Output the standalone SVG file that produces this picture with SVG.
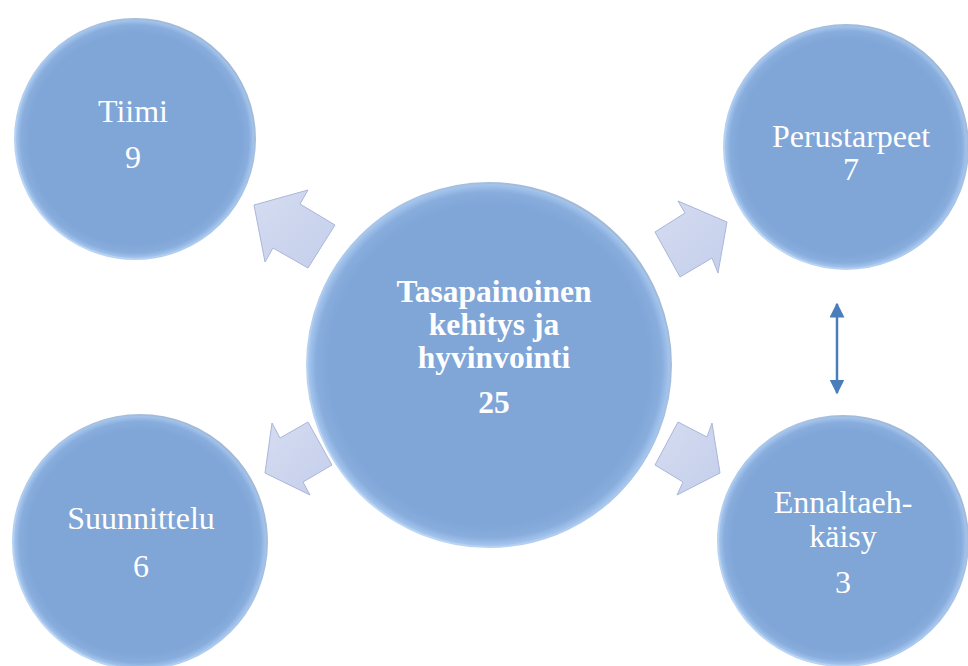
<svg xmlns="http://www.w3.org/2000/svg" width="968" height="666" viewBox="0 0 968 666">
  <style>
    .circ { fill: url(#cfill); stroke: url(#cstroke); stroke-width: 2; }
    text { font-family: 'Liberation Serif', 'DejaVu Serif', serif; fill: #ffffff; font-size: 32px; text-anchor: middle; }
    .bold { font-weight: bold; font-size: 31.5px; }
    .blk { fill: url(#afill); stroke: #aab6da; stroke-width: 1; stroke-linejoin: miter; }
    .dbl { stroke: #4a7ebb; stroke-width: 2.5; fill: none; }
  </style>
  <defs>
    <radialGradient id="cfill" cx="0.5" cy="0.5" r="0.5">
      <stop offset="0" stop-color="#7fa6d7"/>
      <stop offset="0.88" stop-color="#7fa6d7"/>
      <stop offset="0.95" stop-color="#88addd"/>
      <stop offset="1" stop-color="#a9c9f0"/>
    </radialGradient>
    <linearGradient id="cstroke" x1="1" y1="0" x2="0" y2="1">
      <stop offset="0" stop-color="#9fb3cc"/>
      <stop offset="0.5" stop-color="#a9c7ec"/>
      <stop offset="1" stop-color="#c4dcf6"/>
    </linearGradient>
    <linearGradient id="afill" x1="0" y1="0" x2="1" y2="1">
      <stop offset="0" stop-color="#d5dcf1"/>
      <stop offset="1" stop-color="#c5cfeb"/>
    </linearGradient>
    <marker id="ah" viewBox="0 0 10 10" refX="9" refY="5" markerWidth="6" markerHeight="6" markerUnits="strokeWidth" orient="auto-start-reverse">
      <path d="M0,0 L10,5 L0,10 Z" fill="#4a7ebb"/>
    </marker>
  </defs>
  <rect width="968" height="666" fill="#ffffff"/>

  <g id="connectors">
    <polygon class="blk" points="254,205 308,190 300,204 335,225 308,268 273,248 265,262"/>
    <polygon class="blk" points="727,222 678,201 685,213 655,232 680,277 712,258 718,273"/>
    <polygon class="blk" points="265,473 272,423 280,438 308,422 332,465 303,482 310,495"/>
    <polygon class="blk" points="720,473 712,423 707,437 678,422 655,465 683,482 677,495"/>
    <line class="dbl" x1="837" y1="304" x2="837" y2="393" marker-start="url(#ah)" marker-end="url(#ah)"/>
  </g>

  <g id="node-center">
    <circle class="circ" cx="489" cy="365" r="182"/>
    <text class="bold" x="494" y="302">Tasapainoinen</text>
    <text class="bold" x="494" y="335">kehitys ja</text>
    <text class="bold" x="494" y="368">hyvinvointi</text>
    <text class="bold" x="494" y="413">25</text>
  </g>

  <g id="node-tiimi">
    <circle class="circ" cx="135" cy="139" r="120"/>
    <text x="133" y="122">Tiimi</text>
    <text x="133" y="168">9</text>
  </g>

  <g id="node-perustarpeet">
    <circle class="circ" cx="846" cy="147" r="122"/>
    <text x="851" y="147">Perustarpeet</text>
    <text x="851" y="180">7</text>
  </g>

  <g id="node-suunnittelu">
    <circle class="circ" cx="140" cy="542" r="127"/>
    <text x="141" y="529">Suunnittelu</text>
    <text x="141" y="577">6</text>
  </g>

  <g id="node-ennaltaehkaisy">
    <circle class="circ" cx="843" cy="541" r="125"/>
    <text x="843" y="513">Ennaltaeh-</text>
    <text x="843" y="547">käisy</text>
    <text x="843" y="593">3</text>
  </g>
</svg>
